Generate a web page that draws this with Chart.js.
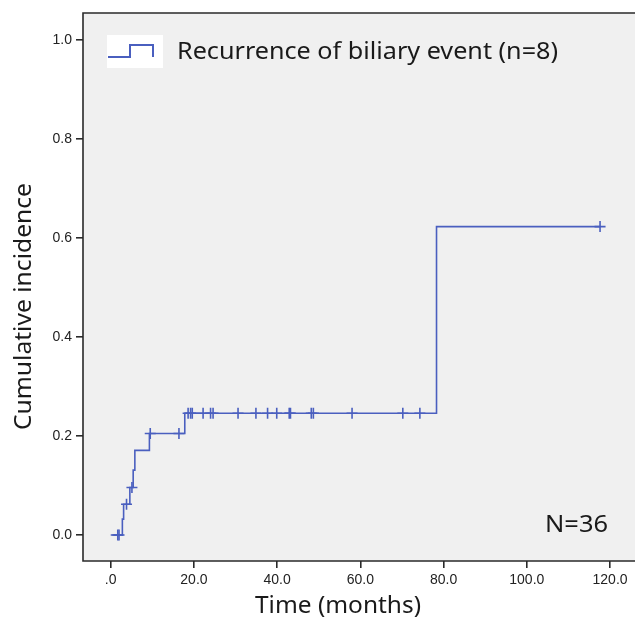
<!DOCTYPE html>
<html>
<head>
<meta charset="utf-8">
<script src="https://cdn.jsdelivr.net/npm/chart.js@4/dist/chart.umd.min.js"></script>
<style>
  html, body { margin: 0; padding: 0; background: #fff; overflow: hidden; }
  #wrap { width: 635px; height: 631px; }
</style>
</head>
<body>
<div id="wrap"><canvas id="chart" width="635" height="631"></canvas></div>
<script>
// step points of the cumulative incidence curve (months, incidence)
const eventTimes  = [0, 2.8, 3.1, 4.6, 5.4, 5.8, 9.3, 17.8, 78.3, 117.6];
const eventValues = [0, 0.032, 0.062, 0.096, 0.131, 0.171, 0.205, 0.246, 0.623, 0.623];

// censored cases (tick marks on the curve)
const censorTimes  = [1.7, 2.0, 3.8, 5.1, 9.5, 16.4,
                      18.6, 19.2, 19.6, 22.2, 24.0, 24.6, 30.6, 34.9, 37.7, 39.9,
                      42.9, 43.2, 48.2, 48.7, 58.0, 70.2, 74.3, 117.6];
const censorValues = [0, 0, 0.062, 0.096, 0.205, 0.205,
                      0.246, 0.246, 0.246, 0.246, 0.246, 0.246, 0.246, 0.246, 0.246, 0.246,
                      0.246, 0.246, 0.246, 0.246, 0.246, 0.246, 0.246, 0.623];

const xTickVals = [0, 20, 40, 60, 80, 100, 120];
const yTickVals = [0, 0.2, 0.4, 0.6, 0.8, 1.0];

const lineColor = '#4a5fbf';

// draw text stretched a little so it spans the given width
function wideText(ctx, text, x, y, width) {
    const w = ctx.measureText(text).width;
    ctx.save();
    ctx.translate(x, y);
    ctx.scale(width / w, 1);
    ctx.fillText(text, 0, 0);
    ctx.restore();
}

// gray plot background + frame, legend box, N label, axis titles
const decor = {
    id: 'decor',
    beforeDraw(chart) {
        const { ctx, chartArea: a } = chart;
        ctx.save();
        ctx.fillStyle = '#f0f0f0';
        ctx.fillRect(a.left, a.top, a.right - a.left, a.bottom - a.top);
        ctx.restore();
    },
    afterDraw(chart) {
        const { ctx, chartArea: a } = chart;
        ctx.save();
        // frame (right side runs off the canvas)
        ctx.strokeStyle = '#2a2a2a';
        ctx.lineWidth = 1.6;
        ctx.beginPath();
        ctx.moveTo(a.right + 2, a.top);
        ctx.lineTo(a.left, a.top);
        ctx.lineTo(a.left, a.bottom);
        ctx.lineTo(a.right + 2, a.bottom);
        ctx.stroke();

        // legend
        ctx.fillStyle = '#ffffff';
        ctx.fillRect(107, 35, 56, 33);
        ctx.strokeStyle = lineColor;
        ctx.lineWidth = 2;
        ctx.beginPath();
        ctx.moveTo(108, 57);
        ctx.lineTo(130, 57);
        ctx.lineTo(130, 45);
        ctx.lineTo(153, 45);
        ctx.lineTo(153, 57);
        ctx.stroke();

        ctx.fillStyle = '#1a1a1a';
        ctx.font = '23px "Noto Sans"';
        ctx.textAlign = 'left';
        ctx.textBaseline = 'alphabetic';
        wideText(ctx, 'Recurrence of biliary event (n=8)', 177, 59, 381);

        ctx.font = '23px "Noto Sans"';
        wideText(ctx, 'N=36', 545, 532, 63);

        // axis titles
        ctx.font = '24px "Noto Sans"';
        wideText(ctx, 'Time (months)', 255, 613, 166);

        ctx.translate(31, 430);
        ctx.rotate(-Math.PI / 2);
        wideText(ctx, 'Cumulative incidence', 0, 0, 247);
        ctx.restore();
    }
};

const ctx = document.getElementById('chart').getContext('2d');
new Chart(ctx, {
    type: 'scatter',
    data: {
        datasets: [
            {
                label: 'Recurrence of biliary event (n=8)',
                data: eventTimes.map((t, i) => ({ x: t, y: eventValues[i] })),
                showLine: true,
                stepped: 'before',
                borderColor: lineColor,
                borderWidth: 1.6,
                pointRadius: 0,
                fill: false
            },
            {
                label: 'Censored',
                data: censorTimes.map((t, i) => ({ x: t, y: censorValues[i] })),
                showLine: false,
                pointStyle: 'cross',
                pointRadius: 5.5,
                borderColor: lineColor,
                backgroundColor: lineColor,
                pointBorderWidth: 1.6
            }
        ]
    },
    options: {
        responsive: false,
        animation: false,
        layout: { autoPadding: false, padding: { top: 13, right: 0, left: 0, bottom: 0 } },
        plugins: {
            legend: { display: false },
            tooltip: { enabled: false }
        },
        scales: {
            x: {
                type: 'linear',
                min: -6.66,
                max: 126,
                afterBuildTicks: (s) => { s.ticks = xTickVals.map(v => ({ value: v })); },
                afterFit: (s) => { s.height = 70; s.paddingLeft = 0; s.paddingRight = 0; },
                border: { display: false },
                grid: { drawOnChartArea: false, drawTicks: true, tickLength: 7, color: '#2a2a2a', lineWidth: 1.6 },
                ticks: {
                    padding: 4,
                    color: '#222',
                    font: { family: '"Liberation Sans", Arial', size: 14 },
                    maxRotation: 0,
                    callback: (v) => v === 0 ? '.0' : v.toFixed(1)
                }
            },
            y: {
                type: 'linear',
                min: -0.0525,
                max: 1.0545,
                afterBuildTicks: (s) => { s.ticks = yTickVals.map(v => ({ value: v })); },
                afterFit: (s) => { s.width = 83; s.paddingTop = 0; s.paddingBottom = 0; },
                border: { display: false },
                grid: { drawOnChartArea: false, drawTicks: true, tickLength: 7, color: '#2a2a2a', lineWidth: 1.6 },
                ticks: {
                    padding: 4,
                    color: '#222',
                    font: { family: '"Liberation Sans", Arial', size: 14 },
                    callback: (v) => v.toFixed(1)
                }
            }
        }
    },
    plugins: [decor]
});
</script>
</body>
</html>
